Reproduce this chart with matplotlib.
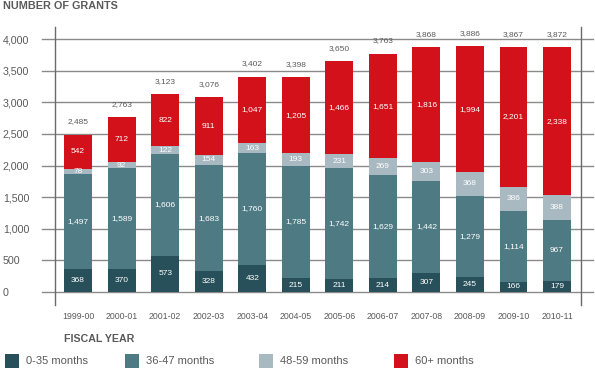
import matplotlib
matplotlib.use("Agg")
import matplotlib.pyplot as plt
from matplotlib.patches import Rectangle

plt.rcParams['font.family'] = ['Liberation Sans', 'DejaVu Sans']

years = ["1999-00", "2000-01", "2001-02", "2002-03", "2003-04", "2004-05",
         "2005-06", "2006-07", "2007-08", "2008-09", "2009-10", "2010-11"]
m0_35 = [368, 370, 573, 328, 432, 215, 211, 214, 307, 245, 166, 179]
m36_47 = [1497, 1589, 1606, 1683, 1760, 1785, 1742, 1629, 1442, 1279, 1114, 967]
m48_59 = [78, 92, 122, 154, 163, 193, 231, 269, 303, 368, 386, 388]
m60p = [542, 712, 822, 911, 1047, 1205, 1466, 1651, 1816, 1994, 2201, 2338]
totals = [2485, 2763, 3123, 3076, 3402, 3398, 3650, 3763, 3868, 3886, 3867, 3872]
series_names = ["0-35 months", "36-47 months", "48-59 months", "60+ months"]
yticks = [0, 500, 1000, 1500, 2000, 2500, 3000, 3500, 4000]

colors = ["#27505a", "#4e7a84", "#a9b9c1", "#d2111a"]
gray = "#5a5a5a"

W, H = 595, 370
fig = plt.figure(figsize=(W / 100, H / 100), dpi=100)
ax = fig.add_axes([55 / W, 1 - 305 / H, (581 - 55) / W, (305 - 27) / H])
ax.set_xlim(-0.53, 11.55)
ax.set_ylim(-205, 4190)

# gridlines extending beyond axes
for yv in yticks:
    ax.axhline(yv, xmin=-13 / 526, xmax=1 + 12 / 526, color="#8a8a8a",
               lw=1.0, zorder=0, clip_on=False)

x = list(range(len(years)))
bw = 0.64
series = [m0_35, m36_47, m48_59, m60p]
bottoms = [0] * len(years)
for s, c in zip(series, colors):
    ax.bar(x, s, bw, bottom=bottoms, color=c, zorder=2, linewidth=0)
    for i, v in enumerate(s):
        ax.text(x[i], bottoms[i] + v / 2, f"{v:,}", ha="center", va="center",
                color="white", fontsize=6.0, zorder=3)
    bottoms = [b + v for b, v in zip(bottoms, s)]

for i, t in enumerate(totals):
    ax.text(x[i], bottoms[i] + 150, f"{t:,}", ha="center", va="bottom",
            color=gray, fontsize=6.0)

for sp in ["top", "bottom"]:
    ax.spines[sp].set_visible(False)
for sp in ["left", "right"]:
    ax.spines[sp].set_color("#6a6a6a")
    ax.spines[sp].set_linewidth(1.0)

ax.set_xticks(x)
ax.set_xticklabels(years, fontsize=6.3, color=gray)
ax.tick_params(axis="x", length=0, pad=5)
ax.set_yticks(yticks)
ax.set_yticklabels([f"{v:,}" for v in yticks], fontsize=7.7, color=gray,
                   ha="left")
ax.tick_params(axis="y", length=0, pad=37.5)

fig.text(3 / W, 1 - 6 / H, "NUMBER OF GRANTS", fontsize=7.8, fontweight="bold",
         color=gray, ha="left", va="center")
fig.text(64 / W, 1 - 339 / H, "FISCAL YEAR", fontsize=7.7, fontweight="bold",
         color=gray, ha="left", va="center")

# legend
sq_x = [5, 125, 259, 394]
sq = 14
for xs, c, name in zip(sq_x, colors, series_names):
    fig.add_artist(Rectangle((xs / W, 1 - 368 / H), sq / W, sq / H,
                             transform=fig.transFigure, color=c, lw=0))
    fig.text((xs + 21) / W, 1 - 361 / H, name, fontsize=8.0, color=gray,
             ha="left", va="center")

fig.savefig("out.png", dpi=100)
